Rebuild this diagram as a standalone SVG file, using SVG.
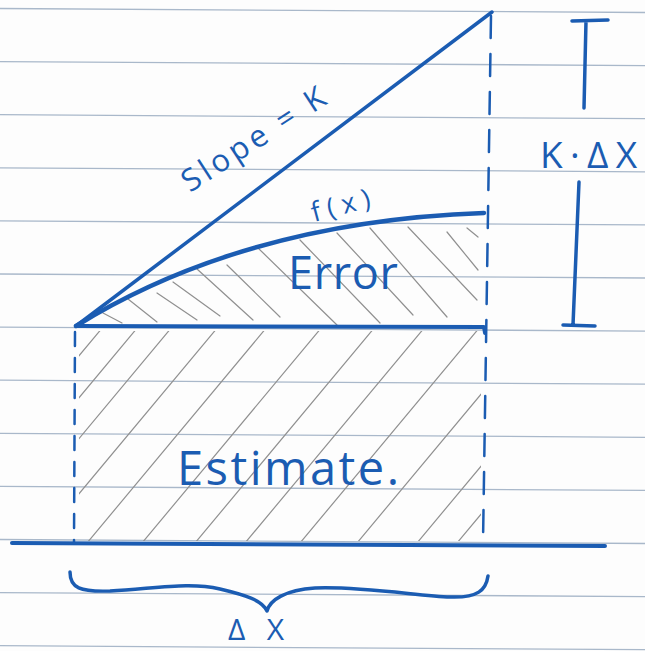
<svg xmlns="http://www.w3.org/2000/svg" width="645" height="651" viewBox="0 0 645 651">
  <style>
    .rule { stroke: #a9b8ca; stroke-width: 1.3; fill: none; }
    .pen { stroke: #1b5cb2; fill: none; stroke-linecap: round; stroke-linejoin: round; }
    .hatch { stroke: #909090; stroke-width: 1.2; fill: none; stroke-linecap: round; }
    .label { fill: #1b5cb2; font-family: "Open Sans", "DejaVu Sans", sans-serif; }
  </style>
  <defs>
    <clipPath id="estClip">
      <rect x="79" y="331" width="402" height="210"/>
    </clipPath>
  </defs>
  <rect width="645" height="651" fill="#fdfdfd"/>

  <g id="ruled-paper">
    <line class="rule" x1="0" y1="8.5" x2="645" y2="12.5"/>
    <line class="rule" x1="0" y1="61.6" x2="645" y2="65.6"/>
    <line class="rule" x1="0" y1="114.7" x2="645" y2="118.7"/>
    <line class="rule" x1="0" y1="167.8" x2="645" y2="171.8"/>
    <line class="rule" x1="0" y1="220.9" x2="645" y2="224.9"/>
    <line class="rule" x1="0" y1="274" x2="645" y2="278"/>
    <line class="rule" x1="0" y1="327.1" x2="645" y2="331.1"/>
    <line class="rule" x1="0" y1="380.2" x2="645" y2="384.2"/>
    <line class="rule" x1="0" y1="433.3" x2="645" y2="437.3"/>
    <line class="rule" x1="0" y1="486.4" x2="645" y2="490.4"/>
    <line class="rule" x1="0" y1="539.5" x2="645" y2="543.5"/>
    <line class="rule" x1="0" y1="592.6" x2="645" y2="596.6"/>
    <line class="rule" x1="0" y1="645.7" x2="645" y2="649.7"/>
  </g>

  <g id="error-hatch">
    <line class="hatch" x1="103" y1="313" x2="122" y2="323"/>
    <line class="hatch" x1="128" y1="299" x2="157" y2="322"/>
    <line class="hatch" x1="157" y1="293" x2="197" y2="320"/>
    <line class="hatch" x1="173" y1="282" x2="220" y2="316"/>
    <line class="hatch" x1="197" y1="269" x2="253" y2="320"/>
    <line class="hatch" x1="227" y1="265" x2="280" y2="317"/>
    <line class="hatch" x1="257" y1="247" x2="337" y2="325"/>
    <line class="hatch" x1="300" y1="240" x2="380" y2="323"/>
    <line class="hatch" x1="337" y1="233" x2="413" y2="315"/>
    <line class="hatch" x1="370" y1="228" x2="447" y2="317"/>
    <line class="hatch" x1="408" y1="227" x2="477" y2="300"/>
    <line class="hatch" x1="447" y1="232" x2="478" y2="270"/>
    <line class="hatch" x1="467" y1="228" x2="478" y2="237"/>
  </g>

  <g id="estimate-hatch" clip-path="url(#estClip)">
    <line class="hatch" x1="103" y1="327" x2="-77" y2="543"/>
    <line class="hatch" x1="138" y1="327" x2="-42" y2="543"/>
    <line class="hatch" x1="172" y1="327" x2="-8" y2="543"/>
    <line class="hatch" x1="218" y1="327" x2="38" y2="543"/>
    <line class="hatch" x1="267" y1="327" x2="87" y2="543"/>
    <line class="hatch" x1="322" y1="327" x2="142" y2="543"/>
    <line class="hatch" x1="375" y1="327" x2="195" y2="543"/>
    <line class="hatch" x1="425" y1="327" x2="245" y2="543"/>
    <line class="hatch" x1="480" y1="327" x2="300" y2="543"/>
    <line class="hatch" x1="537" y1="327" x2="357" y2="543"/>
    <line class="hatch" x1="597" y1="327" x2="417" y2="543"/>
    <line class="hatch" x1="637" y1="327" x2="457" y2="543"/>
  </g>

  <g id="connectors">
    <line id="slope-line" class="pen" stroke-width="3.5" x1="76" y1="326" x2="492" y2="12"/>
    <path id="fx-curve" class="pen" stroke-width="4.5" d="M76,326 C150,280 280,220 484,213"/>
    <path id="estimate-top" class="pen" stroke-width="4" d="M76,326 L484,327 L485,333"/>
    <line id="base-line" class="pen" stroke-width="4" x1="12" y1="543" x2="605" y2="546"/>
    <line id="left-dash" class="pen" stroke-width="2.5" stroke-dasharray="14 12" x1="75" y1="332" x2="74" y2="543"/>
    <line id="right-dash" class="pen" stroke-width="2.5" stroke-dasharray="22 16" x1="491" y1="16" x2="483" y2="543"/>
    <g id="k-dx-bracket">
      <path class="pen" stroke-width="3.5" d="M572,21 L608,20 M586,21 L584,108"/>
      <path class="pen" stroke-width="3.5" d="M579,182 L573,325 M563,325 L595,326"/>
    </g>
    <path id="dx-brace" class="pen" stroke-width="3.5" d="M70,572 C70,588 80,592 110,591 C160,588 190,582 220,589 C245,595 262,600 267,611 C270,600 285,590 315,588 C360,586 420,596 450,597 C478,598 486,590 488,576"/>
  </g>

  <g id="label-slope">
    <text class="label" font-size="31" transform="translate(190,193) rotate(-33)" textLength="165" lengthAdjust="spacing">Slope = K</text>
  </g>
  <g id="label-fx">
    <text class="label" font-size="27" transform="translate(314,222) rotate(-15)" textLength="60" lengthAdjust="spacing">f(x)</text>
  </g>
  <g id="label-error">
    <text class="label" font-size="45" x="288" y="289" textLength="110" lengthAdjust="spacing">Error</text>
  </g>
  <g id="label-estimate">
    <text class="label" font-size="47" x="177" y="485" textLength="222" lengthAdjust="spacing">Estimate.</text>
  </g>
  <g id="label-kdx">
    <text class="label" font-size="37" x="540" y="168" textLength="97" lengthAdjust="spacing">K·ΔX</text>
  </g>
  <g id="label-dx">
    <text class="label" font-size="30" x="228" y="640" textLength="56" lengthAdjust="spacing">ΔX</text>
  </g>
</svg>
